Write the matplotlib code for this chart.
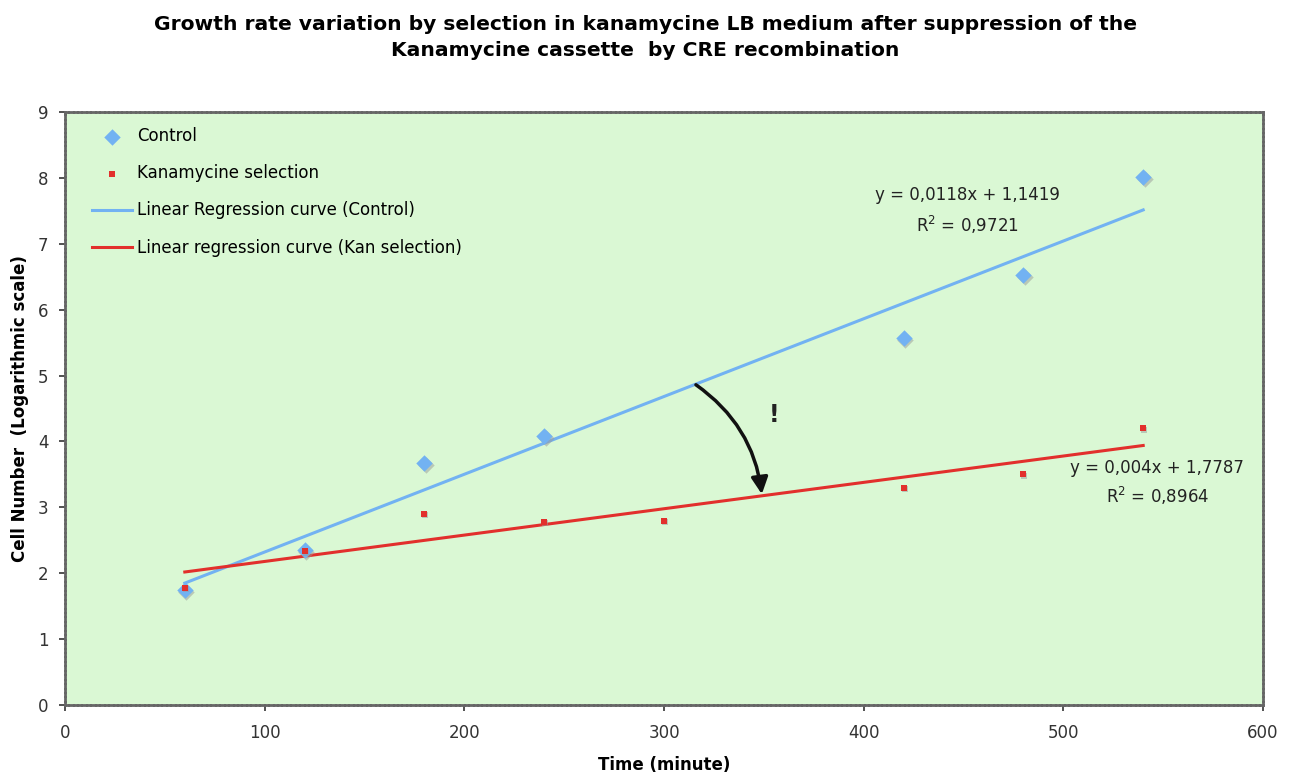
import matplotlib
matplotlib.use("Agg")
import matplotlib.pyplot as plt
import numpy as np

plt.rcParams['font.family'] = ['DejaVu Sans']

# Measurements (time in minutes, log cell number)
control_time = [60, 120, 180, 240, 420, 480, 540]
control_cells = [1.75, 2.35, 3.68, 4.08, 5.57, 6.52, 8.02]
kan_time = [60, 120, 180, 240, 300, 420, 480, 540]
kan_cells = [1.78, 2.33, 2.90, 2.78, 2.80, 3.30, 3.50, 4.20]

# Linear fits reported on the chart
control_slope, control_intercept, control_r2 = 0.0118, 1.1419, 0.9721
kan_slope, kan_intercept, kan_r2 = 0.004, 1.7787, 0.8964

xticks = [0, 100, 200, 300, 400, 500, 600]
yticks = list(range(0, 10))

blue = '#72b2f2'
red = '#e2302c'
bg = '#daf8d4'

fig = plt.figure(figsize=(12.9, 7.75), dpi=100)
ax = fig.add_axes([65 / 1290, 1 - 705 / 775, (1263 - 65) / 1290, (705 - 112) / 775])
ax.set_facecolor(bg)

fit_x = np.array([min(control_time), max(control_time)])
ax.plot(fit_x, control_slope * fit_x + control_intercept, color=blue, lw=2.2,
        label='Linear Regression curve (Control)', zorder=2)
fit_xk = np.array([min(kan_time), max(kan_time)])
ax.plot(fit_xk, kan_slope * fit_xk + kan_intercept, color=red, lw=2.2,
        label='Linear regression curve (Kan selection)', zorder=2)

# soft shadow under the markers
ax.scatter(np.array(control_time) + 0.8, np.array(control_cells) - 0.03, marker='D', s=70,
           color='#9a9a9a', alpha=0.5, lw=0, zorder=3)
ax.scatter(control_time, control_cells, marker='D', s=70, color=blue, lw=0, zorder=4,
           label='Control')
ax.scatter(np.array(kan_time) + 0.5, np.array(kan_cells) - 0.02, marker='s', s=22,
           color='#9a9a9a', alpha=0.5, lw=0, zorder=5)
ax.scatter(kan_time, kan_cells, marker='s', s=22, color=red, lw=0, zorder=6,
           label='Kanamycine selection')

ax.set_xlim(0, 600)
ax.set_ylim(0, 9)
ax.set_xticks(xticks)
ax.set_yticks(yticks)
ax.tick_params(axis='both', labelsize=12, colors='#333333', length=4, width=1.2,
               direction='out', pad=8)
ax.tick_params(axis='x', pad=10)
for sp in ax.spines.values():
    sp.set_color('#666666')
    sp.set_linestyle((0, (1, 0.6)))
    sp.set_linewidth(2)

ax.set_xlabel('Time (minute)', fontsize=12, fontweight='bold', labelpad=10)
ax.set_ylabel('Cell Number  (Logarithmic scale)', fontsize=12, fontweight='bold', labelpad=6)

fig.text(0.5, 1 - 25 / 775, 'Growth rate variation by selection in kanamycine LB medium after suppression of the',
         ha='center', va='center', fontsize=14.6, fontweight='bold')
fig.text(0.5, 1 - 50 / 775, 'Kanamycine cassette  by CRE recombination',
         ha='center', va='center', fontsize=14.6, fontweight='bold')

# Fit equations
ax.text(452, 7.74, 'y = 0,0118x + 1,1419', ha='center', va='center', fontsize=12, color='#222222')
ax.text(452, 7.28, 'R$^2$ = 0,9721', ha='center', va='center', fontsize=12, color='#222222')
ax.text(547, 3.60, 'y = 0,004x + 1,7787', ha='center', va='center', fontsize=12, color='#222222')
ax.text(547, 3.17, 'R$^2$ = 0,8964', ha='center', va='center', fontsize=12, color='#222222')

# Arrow pointing from the control fit down to the kanamycine fit
ax.annotate('', xy=(349, 3.2), xytext=(316, 4.86),
            arrowprops=dict(arrowstyle='-|>', color='#111111', lw=2.5,
                            mutation_scale=25, shrinkA=0, shrinkB=0,
                            connectionstyle='arc3,rad=-0.22'), zorder=7)
ax.text(355, 4.4, '!', fontsize=17, fontweight='bold', ha='center', va='center', color='#222222')

handles, labels = ax.get_legend_handles_labels()
order = [labels.index(l) for l in ['Control', 'Kanamycine selection',
                                   'Linear Regression curve (Control)',
                                   'Linear regression curve (Kan selection)']]
ax.legend([handles[i] for i in order], [labels[i] for i in order], loc='upper left',
          bbox_to_anchor=(0.01, 1.0), frameon=False, fontsize=12, labelspacing=1.15,
          handlelength=2.4, handletextpad=0.3, scatterpoints=1)

fig.savefig('out.png', dpi=100)
